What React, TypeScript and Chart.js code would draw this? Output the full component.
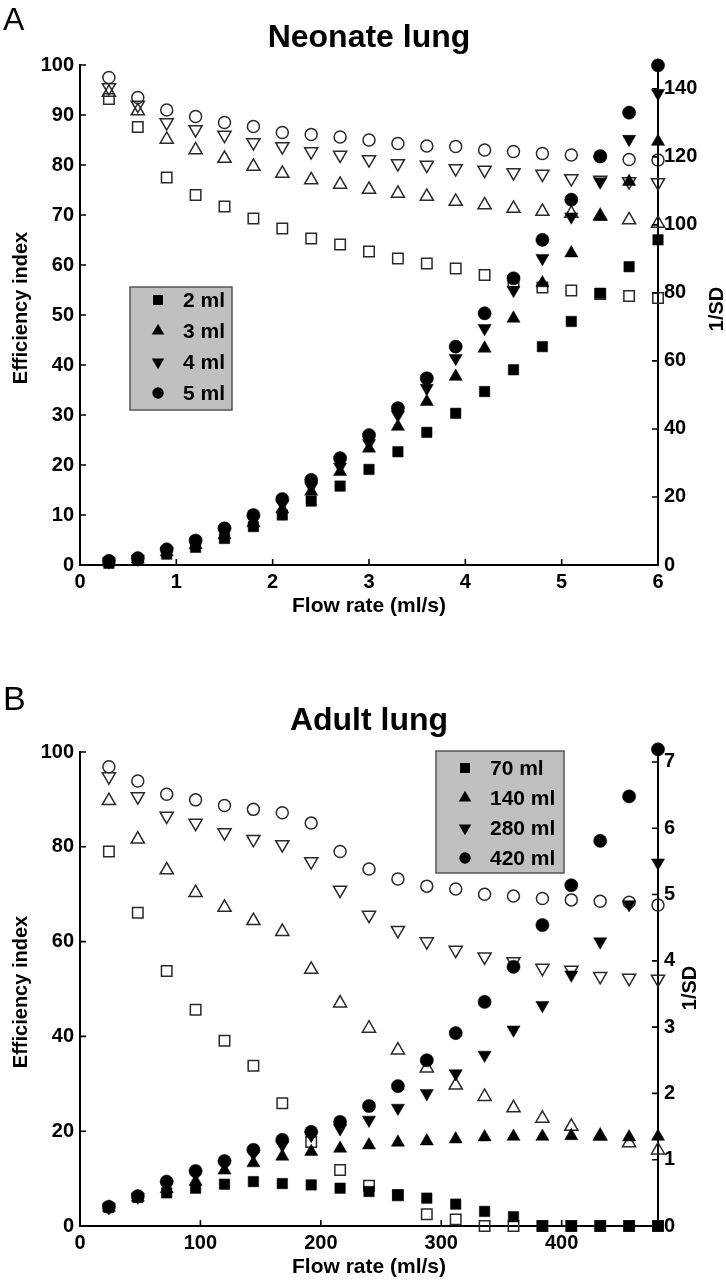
import React, { useEffect, useRef } from 'react';
import { Chart, registerables } from 'chart.js';

Chart.register(...registerables);

const FONT = "'Liberation Sans', Arial, Helvetica, sans-serif";

// ---------- Panel A: Neonate lung ----------
const X_A = [0.3, 0.6, 0.9, 1.2, 1.5, 1.8, 2.1, 2.4, 2.7, 3.0, 3.3, 3.6, 3.9, 4.2, 4.5, 4.8, 5.1, 5.4, 5.7, 6.0];
const LABELS_A = ['2 ml', '3 ml', '4 ml', '5 ml'];
// Efficiency index (open markers, left axis)
const EFF_A_2 = [93.2, 87.6, 77.5, 74, 71.7, 69.3, 67.3, 65.3, 64.1, 62.7, 61.3, 60.3, 59.3, 58, 56.7, 55.5, 54.9, 54.2, 53.8, 53.4];
const EFF_A_3 = [94.5, 90.8, 85.1, 83, 81.3, 79.7, 78.3, 77, 76.1, 75.1, 74.3, 73.7, 72.7, 72, 71.3, 70.7, 70.3, 69.8, 69, 68.3];
const EFF_A_4 = [95.5, 92, 88.5, 87.1, 86, 84.5, 83.7, 82.7, 82, 81.1, 80.3, 80, 79.3, 79, 78.5, 78.2, 77.3, 77, 76.7, 76.5];
const EFF_A_5 = [97.5, 93.5, 91, 89.7, 88.5, 87.7, 86.5, 86.1, 85.6, 85, 84.3, 83.8, 83.7, 83, 82.7, 82.3, 82, 81.8, 81.1, 81];
// 1/SD (filled markers, right axis)
const SD_A_2 = [0.5, 1.5, 3.2, 5.2, 7.8, 11.3, 14.7, 18.8, 23.2, 28.1, 33.3, 39, 44.6, 51, 57.4, 64.2, 71.6, 79.9, 87.7, 95.6];
const SD_A_3 = [0.8, 1.7, 3.8, 5.9, 8.8, 12.4, 16.4, 21.6, 27.4, 34.3, 40.7, 48, 55.4, 63.7, 72.5, 82.9, 91.7, 102.4, 112.7, 124.5];
const SD_A_4 = [1.0, 1.8, 4.2, 6.7, 9.8, 13.2, 17.9, 23, 28.9, 35.8, 44.1, 52, 60.8, 69.6, 80.8, 90.2, 102.4, 112.7, 125.2, 138.7];
const SD_A_5 = [1.2, 2.0, 4.6, 7.2, 10.8, 14.7, 19.4, 25, 31.4, 38.2, 46.1, 54.9, 64.2, 74, 84.3, 95.6, 107.4, 120.1, 133, 146.9];
const XTICKS_A = [0, 1, 2, 3, 4, 5, 6];
const YTICKS_A = [0, 10, 20, 30, 40, 50, 60, 70, 80, 90, 100];
const Y1TICKS_A = [0, 20, 40, 60, 80, 100, 120, 140];

// ---------- Panel B: Adult lung ----------
const X_B = [24, 48, 72, 96, 120, 144, 168, 192, 216, 240, 264, 288, 312, 336, 360, 384, 408, 432, 456, 480];
const LABELS_B = ['70 ml', '140 ml', '280 ml', '420 ml'];
const EFF_B_70 = [79, 66.1, 53.8, 45.6, 39.1, 33.8, 25.9, 17.7, 11.8, 8.5, 6.5, 2.5, 1.4, 0, 0, 0, 0, 0, 0, 0];
const EFF_B_140 = [89.7, 81.6, 75.1, 70.3, 67.2, 64.4, 62.1, 54.1, 47, 41.7, 37.1, 33.3, 29.7, 27.3, 24.9, 22.7, 21, 19, 17.5, 16];
const EFF_B_280 = [94.8, 90.6, 86.5, 85, 83, 81.6, 80.5, 76.9, 70.9, 65.6, 62.4, 60, 58.2, 56.8, 55.8, 54.4, 54, 52.7, 52.3, 52.1];
const EFF_B_420 = [96.9, 93.9, 91.1, 89.9, 88.7, 87.9, 87.2, 85, 79, 75.3, 73.2, 71.7, 71.1, 70, 69.6, 69.1, 68.8, 68.5, 68.3, 67.7];
const SD_B_70 = [0.28, 0.43, 0.5, 0.57, 0.63, 0.67, 0.64, 0.62, 0.57, 0.52, 0.47, 0.42, 0.33, 0.22, 0.14, 0, 0, 0, 0, 0];
const SD_B_140 = [0.28, 0.43, 0.56, 0.67, 0.84, 0.95, 1.05, 1.12, 1.17, 1.22, 1.26, 1.28, 1.31, 1.34, 1.35, 1.35, 1.36, 1.35, 1.34, 1.35];
const SD_B_280 = [0.28, 0.44, 0.62, 0.78, 0.93, 1.09, 1.22, 1.37, 1.47, 1.6, 1.78, 2.0, 2.3, 2.58, 2.96, 3.33, 3.79, 4.29, 4.85, 5.48];
const SD_B_420 = [0.29, 0.45, 0.67, 0.83, 0.98, 1.15, 1.3, 1.42, 1.57, 1.81, 2.11, 2.5, 2.91, 3.38, 3.91, 4.54, 5.14, 5.81, 6.48, 7.19];
const XTICKS_B = [0, 100, 200, 300, 400];
const YTICKS_B = [0, 20, 40, 60, 80, 100];
const Y1TICKS_B = [0, 1, 2, 3, 4, 5, 6, 7];

type Marker = { style: string; rot: number };
const MARKERS: Marker[] = [
  { style: 'rect', rot: 0 },
  { style: 'triangle', rot: 0 },
  { style: 'triangle', rot: 180 },
  { style: 'circle', rot: 0 },
];
const RADIUS: Record<string, number> = { rect: 7.4, triangle: 7.6, circle: 6 };

type Panel = {
  letter: string;
  letterSize: number;
  letterBaseline: number;
  title: string;
  titleBaseline: number;
  xTitle: string;
  xTitleY: number;
  yTitle: string;
  yTitleY: number;
  y1Title: string;
  y1TitleX: number;
  y1TitleY: number;
  padTop: number;
  xAxisH: number;
  height: number;
  xMax: number;
  y1Max: number;
  x: number[];
  labels: string[];
  eff: number[][];
  sd: number[][];
  xTicks: number[];
  yTicks: number[];
  y1Ticks: number[];
  legend: { x: number; y: number; w: number; h: number; rows: number[]; symX: number; textX: number };
};

const PANEL_A: Panel = {
  letter: 'A', letterSize: 32, letterBaseline: 30,
  title: 'Neonate lung', titleBaseline: 47,
  xTitle: 'Flow rate (ml/s)', xTitleY: 606,
  yTitle: 'Efficiency index', yTitleY: 308,
  y1Title: '1/SD', y1TitleX: 717, y1TitleY: 309,
  padTop: 65, xAxisH: 76, height: 641,
  xMax: 6, y1Max: 147,
  x: X_A, labels: LABELS_A,
  eff: [EFF_A_2, EFF_A_3, EFF_A_4, EFF_A_5],
  sd: [SD_A_2, SD_A_3, SD_A_4, SD_A_5],
  xTicks: XTICKS_A, yTicks: YTICKS_A, y1Ticks: Y1TICKS_A,
  legend: { x: 130, y: 287, w: 102, h: 123, rows: [300, 331, 362, 393], symX: 158, textX: 183 },
};

const PANEL_B: Panel = {
  letter: 'B', letterSize: 34, letterBaseline: 69,
  title: 'Adult lung', titleBaseline: 89,
  xTitle: 'Flow rate (ml/s)', xTitleY: 626,
  yTitle: 'Efficiency index', yTitleY: 351,
  y1Title: '1/SD', y1TitleX: 690, y1TitleY: 347,
  padTop: 111, xAxisH: 56, height: 641,
  xMax: 480, y1Max: 7.15,
  x: X_B, labels: LABELS_B,
  eff: [EFF_B_70, EFF_B_140, EFF_B_280, EFF_B_420],
  sd: [SD_B_70, SD_B_140, SD_B_280, SD_B_420],
  xTicks: XTICKS_B, yTicks: YTICKS_B, y1Ticks: Y1TICKS_B,
  legend: { x: 436, y: 110, w: 128, h: 122, rows: [127, 157, 187, 217], symX: 465, textX: 490 },
};

function drawMarker(ctx: CanvasRenderingContext2D, m: Marker, x: number, y: number, r: number) {
  ctx.beginPath();
  if (m.style === 'rect') {
    const s = r / Math.SQRT2;
    ctx.rect(x - s, y - s, 2 * s, 2 * s);
  } else if (m.style === 'circle') {
    ctx.arc(x, y, r, 0, Math.PI * 2);
  } else {
    let rad = (m.rot * Math.PI) / 180;
    ctx.moveTo(x + Math.sin(rad) * r, y - Math.cos(rad) * r);
    for (let i = 0; i < 2; i++) {
      rad += (2 * Math.PI) / 3;
      ctx.lineTo(x + Math.sin(rad) * r, y - Math.cos(rad) * r);
    }
    ctx.closePath();
  }
  ctx.fill();
}

function decorPlugin(p: Panel) {
  return {
    id: 'decor' + p.letter,
    afterDraw(chart: any) {
      const ctx: CanvasRenderingContext2D = chart.ctx;
      const ca = chart.chartArea;
      const sx = chart.scales.x;
      const sy = chart.scales.y;
      const sy1 = chart.scales.y1;
      ctx.save();
      // inward tick marks
      ctx.strokeStyle = '#000';
      ctx.lineWidth = 1.6;
      ctx.beginPath();
      for (const t of sx.ticks) {
        const px = sx.getPixelForValue(t.value);
        ctx.moveTo(px, ca.bottom);
        ctx.lineTo(px, ca.bottom - 6);
      }
      for (const t of sy.ticks) {
        const py = sy.getPixelForValue(t.value);
        ctx.moveTo(ca.left, py);
        ctx.lineTo(ca.left + 6, py);
      }
      for (const t of sy1.ticks) {
        const py = sy1.getPixelForValue(t.value);
        ctx.moveTo(ca.right, py);
        ctx.lineTo(ca.right - 6, py);
      }
      ctx.stroke();

      ctx.fillStyle = '#000';
      // panel letter
      ctx.font = `${p.letterSize}px ${FONT}`;
      ctx.textAlign = 'left';
      ctx.textBaseline = 'alphabetic';
      ctx.fillText(p.letter, 3, p.letterBaseline);
      // title
      const cx = (ca.left + ca.right) / 2;
      ctx.font = `bold 32px ${FONT}`;
      ctx.textAlign = 'center';
      ctx.fillText(p.title, cx, p.titleBaseline);
      // x title
      ctx.font = `bold 21px ${FONT}`;
      ctx.textBaseline = 'middle';
      ctx.fillText(p.xTitle, cx, p.xTitleY);
      // y titles
      ctx.font = `bold 20px ${FONT}`;
      ctx.save();
      ctx.translate(21, p.yTitleY);
      ctx.rotate(-Math.PI / 2);
      ctx.fillText(p.yTitle, 0, 0);
      ctx.restore();
      ctx.save();
      ctx.translate(p.y1TitleX, p.y1TitleY);
      ctx.rotate(-Math.PI / 2);
      ctx.fillText(p.y1Title, 0, 0);
      ctx.restore();

      // legend
      const lg = p.legend;
      ctx.fillStyle = '#c0c0c0';
      ctx.fillRect(lg.x, lg.y, lg.w, lg.h);
      ctx.strokeStyle = '#555';
      ctx.lineWidth = 1.5;
      ctx.strokeRect(lg.x, lg.y, lg.w, lg.h);
      ctx.font = `bold 21px ${FONT}`;
      ctx.textAlign = 'left';
      ctx.textBaseline = 'middle';
      p.labels.forEach((lab, i) => {
        const m = MARKERS[i];
        ctx.fillStyle = '#000';
        drawMarker(ctx, m, lg.symX, lg.rows[i], RADIUS[m.style] * 0.95);
        ctx.fillText(lab, lg.textX, lg.rows[i] + 1);
      });
      ctx.restore();
    },
  };
}

function buildConfig(p: Panel): any {
  const datasets: any[] = [];
  p.labels.forEach((lab, i) => {
    const m = MARKERS[i];
    datasets.push({
      label: lab + ' efficiency',
      data: p.x.map((xv, j) => ({ x: xv, y: p.eff[i][j] })),
      yAxisID: 'y',
      showLine: false,
      pointStyle: m.style,
      rotation: m.rot,
      pointRadius: RADIUS[m.style],
      pointBorderWidth: 1.5,
      pointBorderColor: '#2a2a2a',
      pointBackgroundColor: 'rgba(255,255,255,0)',
      order: 2,
      clip: false,
    });
  });
  p.labels.forEach((lab, i) => {
    const m = MARKERS[i];
    datasets.push({
      label: lab,
      data: p.x.map((xv, j) => ({ x: xv, y: p.sd[i][j] })),
      yAxisID: 'y1',
      showLine: false,
      pointStyle: m.style,
      rotation: m.rot,
      pointRadius: RADIUS[m.style] + (m.style === 'circle' ? 0.6 : 0),
      pointBorderWidth: 0.5,
      pointBorderColor: '#000',
      pointBackgroundColor: '#000',
      order: 1,
      clip: false,
    });
  });

  const tickFont = { family: FONT, size: 20, weight: 'bold' as const };
  const common = {
    type: 'linear',
    grid: { display: true, drawOnChartArea: false, drawTicks: false },
    border: { display: true, color: '#000', width: 2 },
  };

  return {
    type: 'scatter',
    data: { datasets },
    options: {
      responsive: false,
      animation: false,
      devicePixelRatio: 1,
      layout: { padding: { top: p.padTop, left: 0, right: 0, bottom: 0 } },
      plugins: {
        legend: { display: false },
        tooltip: { enabled: false },
        title: { display: false },
      },
      scales: {
        x: {
          ...common,
          position: 'bottom',
          min: 0,
          max: p.xMax,
          afterBuildTicks: (s: any) => { s.ticks = p.xTicks.map((v) => ({ value: v })); },
          afterFit: (s: any) => { s.height = p.xAxisH; },
          ticks: { font: tickFont, color: '#000', padding: 5, maxRotation: 0, autoSkip: false },
        },
        y: {
          ...common,
          position: 'left',
          min: 0,
          max: 100,
          afterBuildTicks: (s: any) => { s.ticks = p.yTicks.map((v) => ({ value: v })); },
          afterFit: (s: any) => { s.width = 80; },
          ticks: { font: tickFont, color: '#000', padding: 6, autoSkip: false },
        },
        y1: {
          ...common,
          position: 'right',
          min: 0,
          max: p.y1Max,
          afterBuildTicks: (s: any) => { s.ticks = p.y1Ticks.map((v) => ({ value: v })); },
          afterFit: (s: any) => { s.width = 68; },
          ticks: { font: tickFont, color: '#000', padding: 6, autoSkip: false },
        },
      },
    },
    plugins: [decorPlugin(p)],
  };
}

function PanelChart({ panel }: { panel: Panel }) {
  const ref = useRef<HTMLCanvasElement | null>(null);
  useEffect(() => {
    if (!ref.current) return;
    const chart = new Chart(ref.current, buildConfig(panel));
    return () => chart.destroy();
  }, [panel]);
  return <canvas ref={ref} width={726} height={panel.height} style={{ display: 'block', width: 726, height: panel.height }} />;
}

export default function App() {
  return (
    <div style={{ position: 'absolute', left: 0, top: 0, width: 726, height: 1282, background: '#fff' }}>
      <PanelChart panel={PANEL_A} />
      <PanelChart panel={PANEL_B} />
    </div>
  );
}
